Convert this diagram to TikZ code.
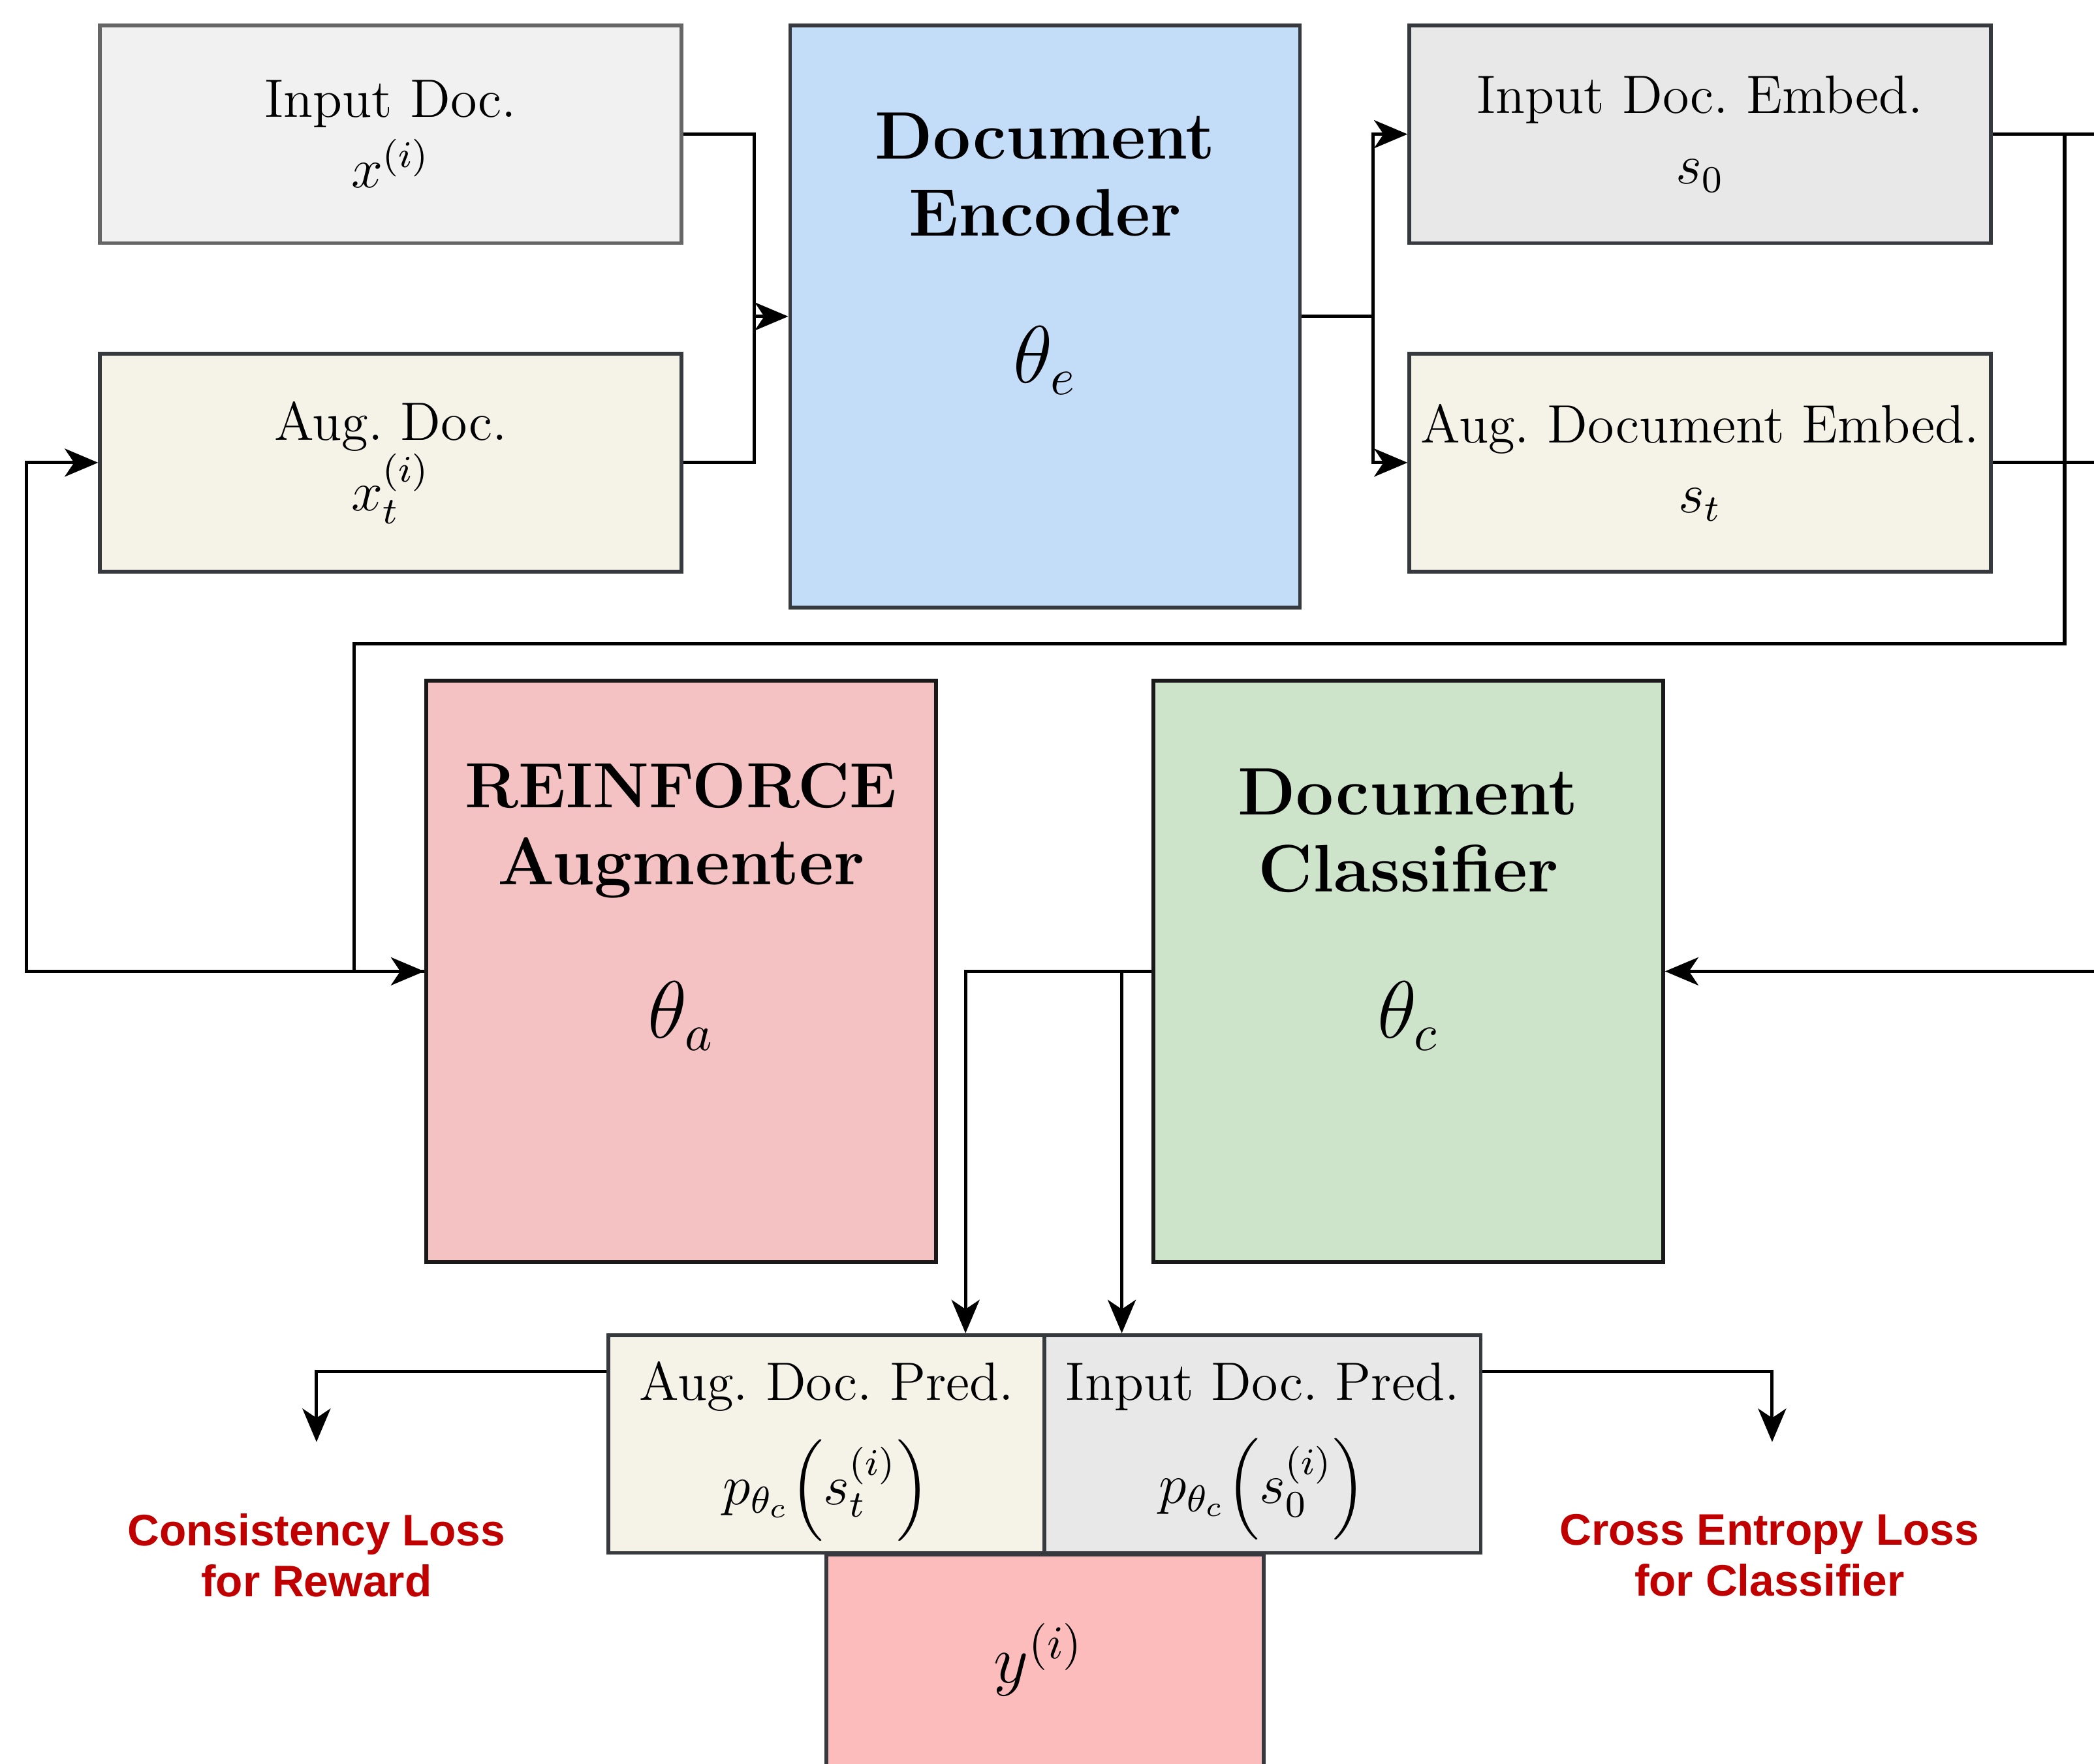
\documentclass[tikz,border=0pt]{standalone}
\usepackage{fontspec}
\usepackage{amsmath}
\newfontfamily\lossfont{Liberation Sans}
\usetikzlibrary{arrows.meta}
\definecolor{inGray}{HTML}{F1F1F1}
\definecolor{grayLine}{HTML}{666666}
\definecolor{beige}{HTML}{F5F3E8}
\definecolor{darkLine}{HTML}{36393D}
\definecolor{encBlue}{HTML}{C3DDF9}
\definecolor{embGray}{HTML}{E8E8E8}
\definecolor{augPink}{HTML}{F4C2C2}
\definecolor{clsGreen}{HTML}{CDE4CB}
\definecolor{yPink}{HTML}{FCBCBC}
\definecolor{lossRed}{HTML}{C00000}
\begin{document}
\frenchspacing
\begin{tikzpicture}[x=0.01cm,y=-0.01cm,
  box/.style={draw=darkLine, line width=0.8pt, inner sep=0pt, align=center,
    font=\fontsize{11.5}{15}\selectfont},
  smallbox/.style={box, minimum width=4.35cm, minimum height=1.63cm},
  predbox/.style={box, minimum width=3.265cm, minimum height=1.63cm},
  predtext/.style={align=center, inner sep=0pt, font=\fontsize{11.5}{15}\selectfont},
  bigbox/.style={draw=darkLine, line width=0.8pt, inner sep=0pt, minimum width=3.815cm, minimum height=4.355cm},
  titletext/.style={align=center, inner sep=0pt, font=\fontsize{14.3}{16.4}\selectfont\bfseries},
  paramtext/.style={inner sep=0pt, font=\fontsize{16}{18}\selectfont},
  losstext/.style={align=center, inner sep=0pt, text=lossRed, font=\fontsize{9.4}{10.8}\selectfont\lossfont\bfseries},
  conn/.style={line width=0.7pt, black},
  arr/.style={conn, -{Stealth[length=2.5mm,width=2.1mm,inset=0.7mm]}}
]
\useasboundingbox (0,0) rectangle (1568,1321);
\clip (0,0) rectangle (1568,1321);
\fill[white] (0,0) rectangle (1568,1321);

% top row
\node[smallbox, fill=inGray, draw=grayLine] (inDoc) at (292.5,100.5) {Input Doc.\\$x^{(i)}$};
\node[smallbox, fill=beige] (augDoc) at (292.5,346.5) {Aug. Doc.\\$x_t^{(i)}$};
\node[bigbox, fill=encBlue] (enc) at (782.5,237) {};
\node[titletext] (encT) at (782.5,131) {Document\\Encoder};
\node[paramtext] (encP) at (782.5,270) {$\theta_e$};
\node[smallbox, fill=embGray] (inEmb) at (1273,100.5) {Input Doc. Embed.\\$s_0$};
\node[smallbox, fill=beige] (augEmb) at (1273,346.5) {Aug. Document Embed.\\$s_t$};

% middle row
\node[bigbox, fill=augPink, draw=black!90] (aug) at (510,727.5) {};
\node[titletext] (augT) at (510,622) {{\fontsize{13.6}{16.4}\selectfont REINFORCE}\\Augmenter};
\node[paramtext] (augP) at (510,761) {$\theta_a$};
\node[bigbox, fill=clsGreen, draw=black!90] (cls) at (1054.5,727.5) {};
\node[titletext] (clsT) at (1054.5,622) {Document\\Classifier};
\node[paramtext] (clsP) at (1054.5,761) {$\theta_c$};

% bottom
\node[predbox, fill=beige] (augPred) at (619,1081.5) {};
\node[predtext] (augPredT) at (619,1087) {Aug. Doc. Pred.\\[5pt]$p_{\theta_c}\Bigl(s_t^{(i)}\Bigr)$};
\node[predbox, fill=embGray] (inPred) at (945.5,1081.5) {};
\node[predtext] (inPredT) at (945.5,1087) {Input Doc. Pred.\\[5pt]$p_{\theta_c}\Bigl(s_0^{(i)}\Bigr)$};
\node[box, fill=yPink, minimum width=3.27cm, minimum height=1.9cm, anchor=north] (yBox) at (782.5,1163) {};
\node[inner sep=0pt, font=\fontsize{14}{16}\selectfont] (yT) at (778,1243) {$y^{(i)}$};

\node[losstext] (loss1) at (237,1165) {Consistency Loss\\for Reward};
\node[losstext] (loss2) at (1325,1165) {Cross Entropy Loss\\for Classifier};

% coordinates
\coordinate (j1) at (565,237);
\coordinate (j2) at (1028,237);
\coordinate (rOut1) at (1600,100.5);
\coordinate (rOut2) at (1600,346.5);
\coordinate (rIn) at (1600,727.5);
\coordinate (j3) at (1546,100.5);
\coordinate (c1) at (1546,482);
\coordinate (j4) at (265,482);
\coordinate (c2) at (20,727.5);
\coordinate (c3) at (723,727.5);
\coordinate (c4) at (840,727.5);
\coordinate (c5) at (237,1027);
\coordinate (c6) at (237,1080);
\coordinate (c7) at (1327,1027);
\coordinate (c8) at (1327,1080);

% connectors
\draw[conn] (inDoc.east) -| (j1);
\draw[conn] (augDoc.east) -| (j1);
\draw[arr] (j1) -- (enc.west);
\draw[conn] (enc.east) -- (j2);
\draw[arr] (j2) |- (inEmb.west);
\draw[arr] (j2) |- (augEmb.west);
\draw[conn] (inEmb.east) -- (rOut1);
\draw[conn] (augEmb.east) -- (rOut2);
\draw[arr] (j3) -- (c1) -- (j4) |- (aug.west);
\draw[arr] (aug.west) -- (c2) |- (augDoc.west);
\draw[arr] (rIn) -- (cls.east);
\draw[arr] (cls.west) -| (augPred.north -| c3);
\draw[arr] (c4) -- (inPred.north -| c4);
\draw[arr] (augPred.west |- c5) -- (c5) -- (c6);
\draw[arr] (inPred.east |- c7) -- (c7) -- (c8);
\end{tikzpicture}
\end{document}
